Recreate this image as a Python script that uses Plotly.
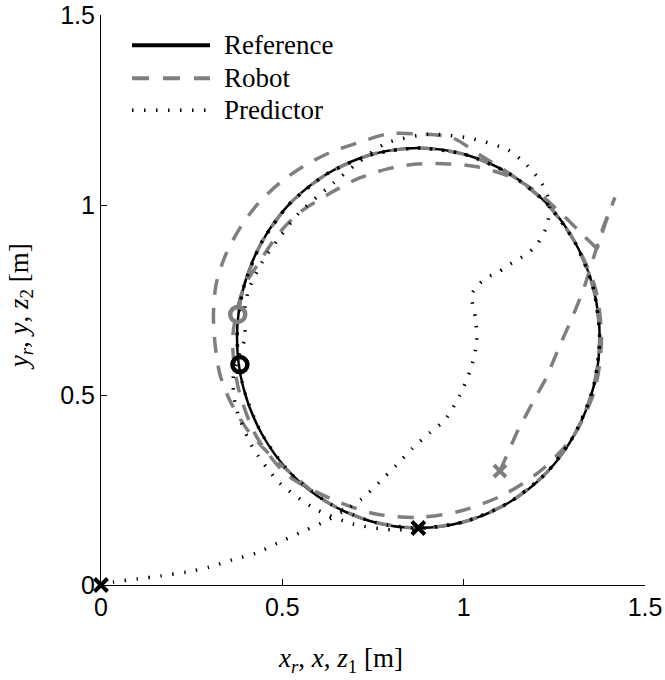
import plotly.graph_objects as go

# ---------------- data (metres) ----------------
ref_x = [0.875, 1.004, 1.125, 1.229, 1.308, 1.358, 1.375, 1.358, 1.308, 1.229, 1.125, 1.004,
         0.875, 0.746, 0.625, 0.521, 0.442, 0.392, 0.375, 0.392, 0.442, 0.521, 0.625, 0.746, 0.875]
ref_y = [0.150, 0.167, 0.217, 0.296, 0.400, 0.521, 0.650, 0.779, 0.900, 1.004, 1.083, 1.133,
         1.150, 1.133, 1.083, 1.004, 0.900, 0.779, 0.650, 0.521, 0.400, 0.296, 0.217, 0.167, 0.150]

robot_x = [1.100, 1.146, 1.190, 1.229, 1.265, 1.300, 1.330, 1.357, 1.384, 1.417,
           1.390, 1.368, 1.325, 1.275, 1.205, 1.130, 1.040, 0.960, 0.870, 0.790,
           0.710, 0.630, 0.547, 0.490, 0.440, 0.392, 0.363, 0.379, 0.428, 0.514,
           0.632, 0.751, 0.875, 0.997, 1.113, 1.219, 1.308, 1.363, 1.380, 1.363,
           1.308, 1.229, 1.125, 1.049, 0.968, 0.875, 0.790, 0.726, 0.636, 0.558,
           0.494, 0.435, 0.386, 0.342, 0.317, 0.310, 0.315, 0.328, 0.357, 0.403,
           0.453, 0.521, 0.625, 0.746, 0.875, 1.004, 1.125, 1.229, 1.308, 1.358,
           1.375, 1.358, 1.308, 1.229, 1.125, 1.004, 0.875, 0.746, 0.625, 0.521,
           0.442, 0.392, 0.377]
robot_y = [0.300, 0.400, 0.480, 0.547, 0.630, 0.705, 0.776, 0.855, 0.940, 1.020,
           0.950, 0.885, 0.925, 0.972, 1.032, 1.074, 1.100, 1.108, 1.108, 1.095,
           1.070, 1.030, 0.980, 0.925, 0.855, 0.779, 0.650, 0.517, 0.392, 0.289,
           0.228, 0.188, 0.178, 0.196, 0.239, 0.306, 0.400, 0.519, 0.650, 0.781,
           0.900, 1.004, 1.083, 1.129, 1.177, 1.187, 1.187, 1.169, 1.140, 1.102,
           1.059, 1.006, 0.944, 0.865, 0.789, 0.709, 0.630, 0.554, 0.482, 0.409,
           0.355, 0.296, 0.217, 0.167, 0.150, 0.167, 0.217, 0.296, 0.400, 0.521,
           0.650, 0.779, 0.900, 1.004, 1.083, 1.133, 1.150, 1.133, 1.083, 1.004,
           0.900, 0.779, 0.712]
robot_turn_index = 11   # the robot backs up to here, then drives forward around the circle

pred_x = [0.000, 0.036, 0.100, 0.166, 0.235, 0.298, 0.362, 0.428, 0.486, 0.547,
          0.608, 0.665, 0.718, 0.768, 0.815, 0.859, 0.906, 0.948, 0.990, 1.020,
          1.036, 1.033, 1.022, 1.039, 1.066, 1.094, 1.120, 1.150, 1.180, 1.205,
          1.226, 1.234, 1.236, 1.215, 1.174, 1.122, 1.016, 0.903, 0.785, 0.707,
          0.640, 0.546, 0.494, 0.445, 0.407, 0.395, 0.397, 0.378, 0.364, 0.372,
          0.417, 0.493, 0.593, 0.697, 0.804, 0.919,
          1.004, 1.125, 1.229, 1.308, 1.358, 1.375, 1.358, 1.308, 1.229, 1.125,
          1.004, 0.875, 0.746, 0.625, 0.521, 0.442, 0.392, 0.375, 0.392, 0.442,
          0.521, 0.625, 0.746, 0.875,
          1.004, 1.125, 1.229, 1.308, 1.358, 1.375, 1.358, 1.308, 1.229, 1.125,
          1.004, 0.875, 0.746, 0.625, 0.521, 0.442, 0.392, 0.375, 0.383]
pred_y = [0.000, 0.008, 0.016, 0.024, 0.034, 0.047, 0.066, 0.084, 0.110, 0.137,
          0.163, 0.192, 0.226, 0.271, 0.316, 0.360, 0.400, 0.434, 0.500, 0.570,
          0.639, 0.700, 0.763, 0.789, 0.810, 0.822, 0.840, 0.857, 0.875, 0.900,
          0.937, 0.966, 1.010, 1.058, 1.105, 1.145, 1.176, 1.186, 1.162, 1.110,
          1.057, 0.979, 0.917, 0.851, 0.776, 0.718, 0.650, 0.598, 0.541, 0.467,
          0.364, 0.268, 0.199, 0.160, 0.145, 0.152,
          0.167, 0.217, 0.296, 0.400, 0.521, 0.650, 0.779, 0.900, 1.004, 1.083,
          1.133, 1.150, 1.133, 1.083, 1.004, 0.900, 0.779, 0.650, 0.521, 0.400,
          0.296, 0.217, 0.167, 0.150,
          0.167, 0.217, 0.296, 0.400, 0.521, 0.650, 0.779, 0.900, 1.004, 1.083,
          1.133, 1.150, 1.133, 1.083, 1.004, 0.900, 0.779, 0.650, 0.580]

start_black_x = [0.000, 0.875]
start_black_y = [0.000, 0.150]
start_gray_x = [1.100]
start_gray_y = [0.300]
end_black_x = [0.383]
end_black_y = [0.580]
end_gray_x = [0.377]
end_gray_y = [0.712]

tick_vals = [0, 0.5, 1, 1.5]
tick_text = ["0", "0.5", "1", "1.5"]
legend_names = ["Reference", "Robot", "Predictor"]

# ---------------- styling ----------------
GRAY = "#7f7f7f"
ROBOT_DASH = "16px,13px"
PRED_DASH = "1.5px,10.5px"
TICK_FONT = dict(family="Liberation Sans, Arial, sans-serif", size=25, color="black")
SERIF = "Liberation Serif, DejaVu Serif, serif"

fig = go.Figure()
fig.add_trace(go.Scatter(x=ref_x, y=ref_y, mode="lines", line=dict(color="black", width=2.5, shape="spline"),
                         showlegend=False, hoverinfo="skip"))
k = robot_turn_index
fig.add_trace(go.Scatter(x=robot_x[:k + 1], y=robot_y[:k + 1], mode="lines",
                         line=dict(color=GRAY, width=3.5, dash=ROBOT_DASH),
                         showlegend=False, hoverinfo="skip"))
fig.add_trace(go.Scatter(x=robot_x[k:], y=robot_y[k:], mode="lines",
                         line=dict(color=GRAY, width=3.5, dash=ROBOT_DASH, shape="spline", smoothing=0.8),
                         showlegend=False, hoverinfo="skip"))
fig.add_trace(go.Scatter(x=pred_x, y=pred_y, mode="lines",
                         line=dict(color="black", width=3.5, dash=PRED_DASH, shape="spline", smoothing=0.7),
                         showlegend=False, hoverinfo="skip"))
fig.add_trace(go.Scatter(x=start_black_x, y=start_black_y, mode="markers", cliponaxis=False,
                         marker=dict(symbol="x-thin", size=13, color="black", line=dict(color="black", width=4)),
                         showlegend=False, hoverinfo="skip"))
fig.add_trace(go.Scatter(x=start_gray_x, y=start_gray_y, mode="markers", cliponaxis=False,
                         marker=dict(symbol="x-thin", size=12, color=GRAY, line=dict(color=GRAY, width=4)),
                         showlegend=False, hoverinfo="skip"))
fig.add_trace(go.Scatter(x=end_black_x, y=end_black_y, mode="markers",
                         marker=dict(symbol="circle-open", size=15, color="black", line=dict(color="black", width=4.5)),
                         showlegend=False, hoverinfo="skip"))
fig.add_trace(go.Scatter(x=end_gray_x, y=end_gray_y, mode="markers",
                         marker=dict(symbol="circle-open", size=15, color=GRAY, line=dict(color=GRAY, width=4.5)),
                         showlegend=False, hoverinfo="skip"))

axis_common = dict(range=[0, 1.5], tickvals=tick_vals, ticktext=tick_text, ticks="inside", ticklen=6,
                   tickwidth=1, tickcolor="black", showline=True, linecolor="black", linewidth=1.2,
                   showgrid=False, zeroline=False, tickfont=TICK_FONT, mirror=False, automargin=False)

# custom legend (line samples + labels)
legend_rows = [0.947, 0.889, 0.833]
legend_styles = [dict(color="black", width=4, dash="solid"),
                 dict(color=GRAY, width=4, dash="17px,14px"),
                 dict(color="black", width=3.5, dash=PRED_DASH)]
shapes = []
annotations = []
for name, yy, st in zip(legend_names, legend_rows, legend_styles):
    shapes.append(dict(type="line", xref="paper", yref="paper", x0=0.057, x1=0.2004, y0=yy, y1=yy, line=st))
    annotations.append(dict(text=name, xref="paper", yref="paper", x=0.222, y=yy, xanchor="left",
                            yanchor="middle", showarrow=False,
                            font=dict(family=SERIF, size=27, color="black")))

annotations.append(dict(text="<i>x</i><sub><i>r</i></sub>, <i>x</i>, <i>z</i><sub>1</sub> [m]",
                        xref="paper", yref="paper", x=0.441, y=-0.132, xanchor="center", yanchor="middle",
                        showarrow=False, font=dict(family=SERIF, size=27, color="black")))
annotations.append(dict(text="<i>y</i><sub><i>r</i></sub>, <i>y</i>, <i>z</i><sub>2</sub> [m]",
                        xref="paper", yref="paper", x=-0.148, y=0.488, xanchor="center", yanchor="middle",
                        textangle=-90, showarrow=False, font=dict(family=SERIF, size=27, color="black")))

fig.update_layout(template="none", width=665, height=680, margin=dict(l=101, r=20, t=15, b=95),
                  paper_bgcolor="white", plot_bgcolor="white",
                  xaxis=axis_common, yaxis=axis_common, shapes=shapes, annotations=annotations)

fig.write_html("out.html")
